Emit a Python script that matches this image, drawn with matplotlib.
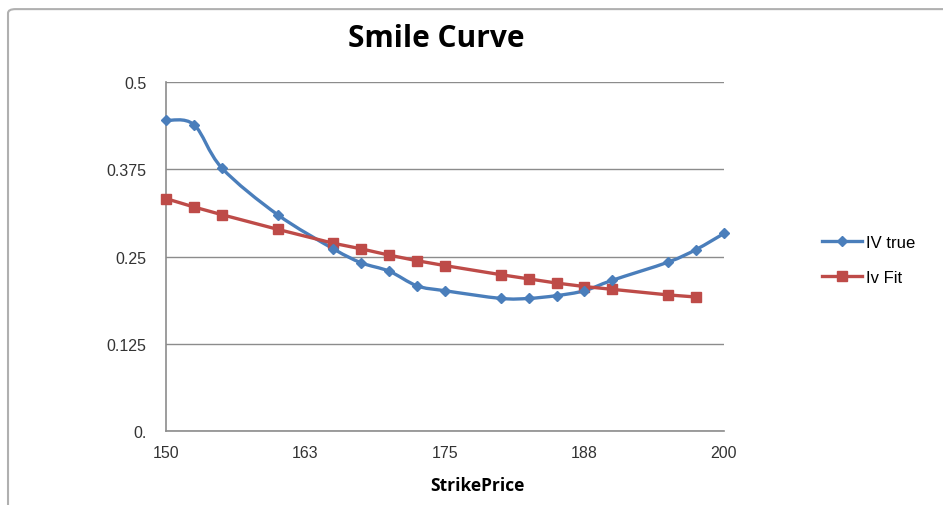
import matplotlib
matplotlib.use("Agg")
import matplotlib.pyplot as plt
from matplotlib.path import Path
from matplotlib.patches import PathPatch, FancyBboxPatch
from matplotlib.lines import Line2D

# strike prices and implied volatilities
strike_true = [150, 152.5, 155, 160, 165, 167.5, 170, 172.5, 175, 180,
               182.5, 185, 187.5, 190, 195, 197.5, 200]
iv_true = [0.445, 0.439, 0.377, 0.310, 0.261, 0.241, 0.229, 0.208, 0.201,
           0.190, 0.190, 0.194, 0.201, 0.216, 0.242, 0.260, 0.283]

strike_fit = [150, 152.5, 155, 160, 165, 167.5, 170, 172.5, 175, 180,
              182.5, 185, 187.5, 190, 195, 197.5]
iv_fit = [0.333, 0.321, 0.310, 0.289, 0.269, 0.261, 0.252, 0.244, 0.237,
          0.224, 0.218, 0.212, 0.207, 0.203, 0.195, 0.192]

x_ticks = [150, 162.5, 175, 187.5, 200]
x_labels = ["150", "163", "175", "188", "200"]
y_ticks = [0, 0.125, 0.25, 0.375, 0.5]
y_labels = ["0.", "0.125", "0.25", "0.375", "0.5"]

BLUE = "#4a7ebb"
RED = "#be4b48"


def smooth_path(xs, ys):
    # bezier segments through the points, like Excel's smoothed line
    pts = list(zip(xs, ys))
    verts = [pts[0]]
    codes = [Path.MOVETO]
    n = len(pts)
    for i in range(n - 1):
        p0 = pts[max(i - 1, 0)]
        p1 = pts[i]
        p2 = pts[i + 1]
        p3 = pts[min(i + 2, n - 1)]
        c1 = (p1[0] + (p2[0] - p0[0]) / 6, p1[1] + (p2[1] - p0[1]) / 6)
        c2 = (p2[0] - (p3[0] - p1[0]) / 6, p2[1] - (p3[1] - p1[1]) / 6)
        verts += [c1, c2, p2]
        codes += [Path.CURVE4] * 3
    return Path(verts, codes)


fig = plt.figure(figsize=(9.43, 5.06), dpi=100)

# outer chart frame (only top and left edges fall inside the picture)
frame = FancyBboxPatch((0.0085, -0.1), 1.2, 1.08, boxstyle="round,pad=0,rounding_size=0.008",
                       transform=fig.transFigure, facecolor="none",
                       edgecolor="#b0b0b0", linewidth=1.5)
fig.patches.append(frame)

ax = fig.add_axes([0.176, 0.1462, 0.5917, 0.6897])

ax.add_patch(PathPatch(smooth_path(strike_true, iv_true), facecolor="none",
                       edgecolor=BLUE, linewidth=2.4, zorder=3, clip_on=False))
ax.plot(strike_true, iv_true, linestyle="none", marker="D", markersize=5.5,
        color=BLUE, zorder=4, clip_on=False)
ax.plot(strike_fit, iv_fit, color=RED, linewidth=2.4, marker="s",
        markersize=7.5, zorder=3, clip_on=False)

ax.set_xlim(150, 200)
ax.set_ylim(0, 0.5)
ax.set_xticks(x_ticks)
ax.set_xticklabels(x_labels)
ax.set_yticks(y_ticks)
ax.set_yticklabels(y_labels)
ax.tick_params(length=0, labelsize=11.5, labelcolor="#333333")
ax.tick_params(axis="y", pad=14)
ax.tick_params(axis="x", pad=10)
for lbl in ax.get_xticklabels() + ax.get_yticklabels():
    lbl.set_family("Liberation Sans")

ax.grid(axis="y", color="#8c8c8c", linewidth=1.0)
ax.set_axisbelow(True)
for s in ["top", "right"]:
    ax.spines[s].set_visible(False)
for s in ["left", "bottom"]:
    ax.spines[s].set_color("#8c8c8c")
    ax.spines[s].set_linewidth(1.2)

fig.text(0.463, 0.922, "Smile Curve", ha="center", va="center",
         fontsize=21.5, fontweight="bold", family="Open Sans")
fig.text(0.506, 0.04, "StrikePrice", ha="center", va="center",
         fontsize=12.5, fontweight="bold", family="Open Sans")

handles = [Line2D([], [], color=BLUE, linewidth=2.4, marker="D", markersize=5.5),
           Line2D([], [], color=RED, linewidth=2.4, marker="s", markersize=7.5)]
fig.legend(handles, ["IV true", "Iv Fit"], loc="center left",
           bbox_to_anchor=(0.856, 0.485), frameon=False, handlelength=2.4,
           handletextpad=0.2, labelspacing=1.2,
           prop={"family": "Liberation Sans", "size": 12})

fig.savefig("out.png", dpi=100)
